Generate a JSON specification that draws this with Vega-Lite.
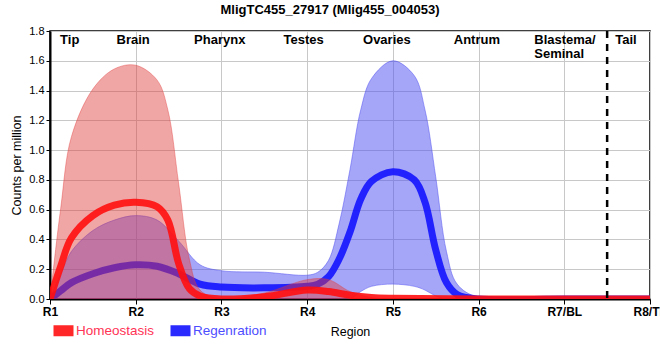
{
  "$schema": "https://vega.github.io/schema/vega-lite/v6.json",
  "width": 600,
  "height": 268,
  "autosize": {"type": "none"},
  "padding": {"left": 50, "top": 31, "right": 10, "bottom": 61},
  "title": {"text": "MligTC455_27917 (Mlig455_004053)", "fontSize": 13, "fontWeight": "bold", "baseline": "alphabetic", "offset": 3, "dy": 5, "dx": -20, "color": "#000000"},
  "config": {
    "font": "Liberation Sans",
    "view": {"stroke": "#000000", "strokeWidth": 1.5},
    "axis": {"gridColor": "#c8c8c8", "gridWidth": 1, "domainColor": "#000000", "domainWidth": 2, "tickColor": "#000000", "labelColor": "#000000", "titleColor": "#000000"}
  },
  "datasets": {
    "expr": [
      {"region": "R1", "pos": 1, "group": "Homeostasis", "mean": 0, "lo": 0, "hi": 0},
      {"region": "", "pos": 1.125, "group": "Homeostasis", "mean": 0.22, "lo": 0, "hi": 0.61},
      {"region": "", "pos": 1.25, "group": "Homeostasis", "mean": 0.41, "lo": 0, "hi": 1.09},
      {"region": "", "pos": 1.5, "group": "Homeostasis", "mean": 0.56, "lo": 0, "hi": 1.41},
      {"region": "", "pos": 1.75, "group": "Homeostasis", "mean": 0.63, "lo": 0, "hi": 1.545},
      {"region": "R2", "pos": 2, "group": "Homeostasis", "mean": 0.65, "lo": 0, "hi": 1.57},
      {"region": "", "pos": 2.25, "group": "Homeostasis", "mean": 0.62, "lo": 0, "hi": 1.47},
      {"region": "", "pos": 2.375, "group": "Homeostasis", "mean": 0.53, "lo": 0, "hi": 1.27},
      {"region": "", "pos": 2.5, "group": "Homeostasis", "mean": 0.24, "lo": 0, "hi": 0.78},
      {"region": "", "pos": 2.625, "group": "Homeostasis", "mean": 0.07, "lo": 0, "hi": 0.27},
      {"region": "", "pos": 2.75, "group": "Homeostasis", "mean": 0.02, "lo": 0, "hi": 0.06},
      {"region": "R3", "pos": 3, "group": "Homeostasis", "mean": 0.0, "lo": 0, "hi": 0.0},
      {"region": "", "pos": 3.5, "group": "Homeostasis", "mean": 0.015, "lo": 0, "hi": 0.04},
      {"region": "R4", "pos": 4, "group": "Homeostasis", "mean": 0.06, "lo": 0, "hi": 0.13},
      {"region": "", "pos": 4.25, "group": "Homeostasis", "mean": 0.05, "lo": 0, "hi": 0.13},
      {"region": "", "pos": 4.5, "group": "Homeostasis", "mean": 0.025, "lo": 0, "hi": 0.05},
      {"region": "", "pos": 4.75, "group": "Homeostasis", "mean": 0.01, "lo": 0, "hi": 0.01},
      {"region": "R5", "pos": 5, "group": "Homeostasis", "mean": 0.005, "lo": 0, "hi": 0.0},
      {"region": "R6", "pos": 6, "group": "Homeostasis", "mean": 0, "lo": 0, "hi": 0},
      {"region": "R7/BL", "pos": 7, "group": "Homeostasis", "mean": 0, "lo": 0, "hi": 0},
      {"region": "R8/TP", "pos": 8, "group": "Homeostasis", "mean": 0, "lo": 0, "hi": 0},
      {"region": "R1", "pos": 1, "group": "Regenration", "mean": 0, "lo": 0, "hi": 0},
      {"region": "", "pos": 1.125, "group": "Regenration", "mean": 0.055, "lo": 0, "hi": 0.17},
      {"region": "", "pos": 1.25, "group": "Regenration", "mean": 0.11, "lo": 0, "hi": 0.32},
      {"region": "", "pos": 1.5, "group": "Regenration", "mean": 0.17, "lo": 0, "hi": 0.46},
      {"region": "", "pos": 1.75, "group": "Regenration", "mean": 0.21, "lo": 0, "hi": 0.53},
      {"region": "R2", "pos": 2, "group": "Regenration", "mean": 0.23, "lo": 0, "hi": 0.56},
      {"region": "", "pos": 2.25, "group": "Regenration", "mean": 0.22, "lo": 0, "hi": 0.53},
      {"region": "", "pos": 2.5, "group": "Regenration", "mean": 0.17, "lo": 0, "hi": 0.39},
      {"region": "", "pos": 2.75, "group": "Regenration", "mean": 0.1, "lo": 0, "hi": 0.23},
      {"region": "R3", "pos": 3, "group": "Regenration", "mean": 0.08, "lo": 0, "hi": 0.19},
      {"region": "", "pos": 3.5, "group": "Regenration", "mean": 0.075, "lo": 0, "hi": 0.18},
      {"region": "R4", "pos": 4, "group": "Regenration", "mean": 0.085, "lo": 0, "hi": 0.16},
      {"region": "", "pos": 4.125, "group": "Regenration", "mean": 0.1, "lo": 0, "hi": 0.18},
      {"region": "", "pos": 4.25, "group": "Regenration", "mean": 0.15, "lo": 0, "hi": 0.26},
      {"region": "", "pos": 4.375, "group": "Regenration", "mean": 0.27, "lo": 0, "hi": 0.51},
      {"region": "", "pos": 4.5, "group": "Regenration", "mean": 0.45, "lo": 0, "hi": 0.87},
      {"region": "", "pos": 4.625, "group": "Regenration", "mean": 0.67, "lo": 0.05, "hi": 1.27},
      {"region": "", "pos": 4.75, "group": "Regenration", "mean": 0.79, "lo": 0.085, "hi": 1.48},
      {"region": "R5", "pos": 5, "group": "Regenration", "mean": 0.855, "lo": 0.1, "hi": 1.6},
      {"region": "", "pos": 5.25, "group": "Regenration", "mean": 0.8, "lo": 0.085, "hi": 1.5},
      {"region": "", "pos": 5.375, "group": "Regenration", "mean": 0.65, "lo": 0.06, "hi": 1.27},
      {"region": "", "pos": 5.5, "group": "Regenration", "mean": 0.33, "lo": 0.02, "hi": 0.82},
      {"region": "", "pos": 5.625, "group": "Regenration", "mean": 0.11, "lo": 0, "hi": 0.32},
      {"region": "", "pos": 5.75, "group": "Regenration", "mean": 0.03, "lo": 0, "hi": 0.1},
      {"region": "R6", "pos": 6, "group": "Regenration", "mean": 0.0, "lo": 0, "hi": 0.01},
      {"region": "R7/BL", "pos": 7, "group": "Regenration", "mean": 0, "lo": 0, "hi": 0},
      {"region": "R8/TP", "pos": 8, "group": "Regenration", "mean": 0, "lo": 0, "hi": 0}
    ],
    "labels": [
      {"name": "Tip", "pos": 1.23},
      {"name": "Brain", "pos": 1.97},
      {"name": "Pharynx", "pos": 2.98},
      {"name": "Testes", "pos": 3.96},
      {"name": "Ovaries", "pos": 4.93},
      {"name": "Antrum", "pos": 5.98},
      {"name": "Tail", "pos": 7.72}
    ],
    "labels2": [
      {"name": "Blastema/\nSeminal", "pos": 6.65}
    ],
    "divider": [{"pos": 7.5}]
  },
  "encoding": {
    "x": {
      "field": "pos", "type": "quantitative",
      "scale": {"domain": [1, 8], "nice": false, "zero": false},
      "axis": {
        "values": [1, 2, 3, 4, 5, 6, 7, 8],
        "labelExpr": "['R1','R2','R3','R4','R5','R6','R7/BL','R8/TP'][datum.value-1]",
        "title": "Region", "titleFontSize": 12.5, "titleFontWeight": "normal", "titlePadding": 8,
        "labelFontSize": 12, "labelFontWeight": "bold", "labelFlush": false, "labelOverlap": false, "labelBound": false,
        "tickSize": 5, "labelPadding": 2, "grid": true
      }
    }
  },
  "layer": [
    {
      "data": {"name": "expr"},
      "transform": [{"filter": "datum.group == 'Regenration'"}],
      "mark": {"type": "area", "interpolate": "catmull-rom", "fill": "#4d4df1", "fillOpacity": 0.5, "stroke": "#4d4df1", "strokeOpacity": 0.5, "strokeWidth": 1, "clip": true},
      "encoding": {
        "y": {"field": "hi", "type": "quantitative", "scale": {"domain": [0, 1.8], "nice": false},
          "axis": {"values": [0, 0.2, 0.4, 0.6, 0.8, 1.0, 1.2, 1.4, 1.6, 1.8], "format": ".1f", "title": "Counts per million", "titleFontSize": 12.5, "titleFontWeight": "normal", "titlePadding": 5, "labelFontSize": 11, "labelOverlap": false, "labelBound": false, "labelFlush": false, "tickSize": 4, "labelPadding": 2, "grid": true}},
        "y2": {"field": "lo"}
      }
    },
    {
      "data": {"name": "expr"},
      "transform": [{"filter": "datum.group == 'Regenration'"}],
      "mark": {"type": "line", "interpolate": "catmull-rom", "strokeWidth": 7, "clip": true, "opacity": 0.9},
      "encoding": {
        "y": {"field": "mean", "type": "quantitative",
          "axis": {"values": [0, 0.2, 0.4, 0.6, 0.8, 1.0, 1.2, 1.4, 1.6, 1.8], "format": ".1f", "title": "Counts per million", "titleFontSize": 12.5, "titleFontWeight": "normal", "titlePadding": 5, "labelFontSize": 11, "labelOverlap": false, "labelBound": false, "labelFlush": false, "tickSize": 4, "labelPadding": 2, "grid": true}},
        "color": {"field": "group", "type": "nominal",
          "scale": {"domain": ["Homeostasis", "Regenration"], "range": ["#ff1010", "#1414ff"]},
          "legend": {"orient": "none", "legendX": -2, "legendY": 284, "direction": "horizontal", "title": null,
            "symbolType": "stroke", "symbolSize": 400, "symbolStrokeWidth": 11, "symbolOpacity": 0.9,
            "labelFontSize": 13.5, "columnPadding": -7, "labelOffset": -3,
            "labelColor": {"expr": "datum.label == 'Homeostasis' ? '#ff3355' : '#4d4dff'"}}}
      }
    },
    {
      "data": {"name": "expr"},
      "transform": [{"filter": "datum.group == 'Homeostasis'"}],
      "mark": {"type": "area", "interpolate": "catmull-rom", "fill": "#e03a3a", "fillOpacity": 0.45, "stroke": "#e03a3a", "strokeOpacity": 0.4, "strokeWidth": 1, "clip": true},
      "encoding": {
        "y": {"field": "hi", "type": "quantitative",
          "axis": {"values": [0, 0.2, 0.4, 0.6, 0.8, 1.0, 1.2, 1.4, 1.6, 1.8], "format": ".1f", "title": "Counts per million", "titleFontSize": 12.5, "titleFontWeight": "normal", "titlePadding": 5, "labelFontSize": 11, "labelOverlap": false, "labelBound": false, "labelFlush": false, "tickSize": 4, "labelPadding": 2, "grid": true}},
        "y2": {"field": "lo"}
      }
    },
    {
      "data": {"name": "expr"},
      "transform": [{"filter": "datum.group == 'Homeostasis'"}],
      "mark": {"type": "line", "interpolate": "catmull-rom", "strokeWidth": 7, "clip": true, "opacity": 0.9},
      "encoding": {
        "y": {"field": "mean", "type": "quantitative",
          "axis": {"values": [0, 0.2, 0.4, 0.6, 0.8, 1.0, 1.2, 1.4, 1.6, 1.8], "format": ".1f", "title": "Counts per million", "titleFontSize": 12.5, "titleFontWeight": "normal", "titlePadding": 5, "labelFontSize": 11, "labelOverlap": false, "labelBound": false, "labelFlush": false, "tickSize": 4, "labelPadding": 2, "grid": true}},
        "color": {"field": "group", "type": "nominal"}
      }
    },
    {
      "data": {"name": "divider"},
      "mark": {"type": "rule", "color": "#000000", "strokeWidth": 2.5, "strokeDash": [7, 6]},
      "encoding": {}
    },
    {
      "data": {"name": "labels"},
      "mark": {"type": "text", "fontSize": 13, "fontWeight": "bold", "align": "center", "baseline": "middle", "color": "#000000"},
      "encoding": {
        "y": {"datum": 1.74, "type": "quantitative",
          "axis": {"values": [0, 0.2, 0.4, 0.6, 0.8, 1.0, 1.2, 1.4, 1.6, 1.8], "format": ".1f", "title": "Counts per million", "titleFontSize": 12.5, "titleFontWeight": "normal", "titlePadding": 5, "labelFontSize": 11, "labelOverlap": false, "labelBound": false, "labelFlush": false, "tickSize": 4, "labelPadding": 2, "grid": true}},
        "text": {"field": "name"}
      }
    },
    {
      "data": {"name": "labels2"},
      "mark": {"type": "text", "fontSize": 13, "fontWeight": "bold", "align": "left", "baseline": "middle", "lineBreak": "\n", "lineHeight": 14, "color": "#000000"},
      "encoding": {
        "y": {"datum": 1.74, "type": "quantitative",
          "axis": {"values": [0, 0.2, 0.4, 0.6, 0.8, 1.0, 1.2, 1.4, 1.6, 1.8], "format": ".1f", "title": "Counts per million", "titleFontSize": 12.5, "titleFontWeight": "normal", "titlePadding": 5, "labelFontSize": 11, "labelOverlap": false, "labelBound": false, "labelFlush": false, "tickSize": 4, "labelPadding": 2, "grid": true}},
        "text": {"field": "name"}
      }
    }
  ]
}
